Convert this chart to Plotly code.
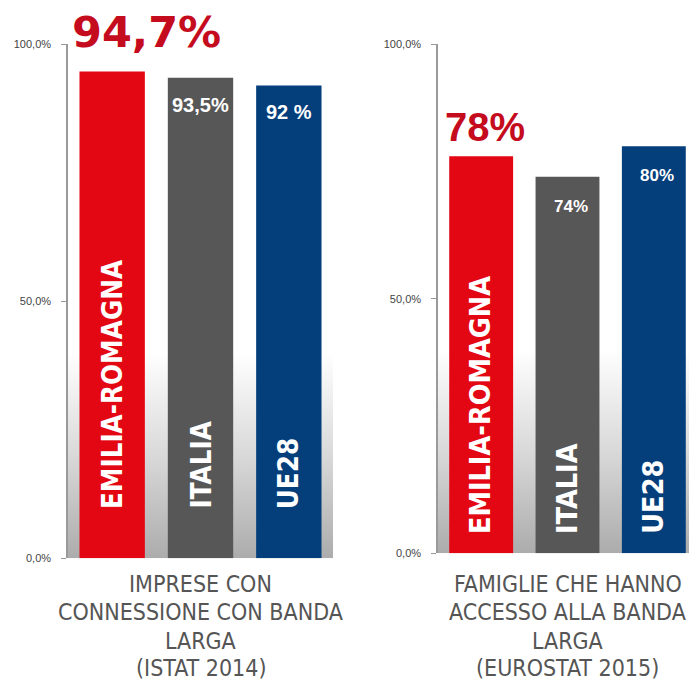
import base64
import plotly.graph_objects as go

# ---- data ----
categories = ["EMILIA-ROMAGNA", "ITALIA", "UE28"]
imprese_values = [94.7, 93.5, 92.0]
imprese_labels = ["94,7%", "93,5%", "92 %"]
famiglie_values = [78.0, 74.0, 80.0]
famiglie_labels = ["78%", "74%", "80%"]
tick_values = [0, 50, 100]
tick_labels = ["0,0%", "50,0%", "100,0%"]
subtitle_left = ["IMPRESE CON", "CONNESSIONE CON BANDA", "LARGA", "(ISTAT 2014)"]
subtitle_right = ["FAMIGLIE CHE HANNO", "ACCESSO ALLA BANDA", "LARGA", "(EUROSTAT 2015)"]

bar_colors = ["#e30613", "#575757", "#043e7b"]
NARROW = "Liberation Sans Narrow, Arial Narrow, DejaVu Sans Condensed, sans-serif"

# page body has an 8px margin: size the figure so it fits the 697x680 window
OFF = 8
FW, FH = 697 - OFF, 680 - OFF


def xd(px):
    return (px - OFF) / FW


def yd(py):
    # empirical correction of the vertical placement seen in the rendered page
    req = (py - 5.82) / 0.9806
    return (FH - (req - OFF)) / FH


fig = go.Figure()
fig.add_trace(go.Bar(x=categories, y=imprese_values, marker=dict(color=bar_colors, line=dict(width=0)),
                     width=0.74, xaxis="x", yaxis="y", hoverinfo="skip"))
fig.add_trace(go.Bar(x=categories, y=famiglie_values, marker=dict(color=bar_colors, line=dict(width=0)),
                     width=0.74, xaxis="x2", yaxis="y2", hoverinfo="skip"))

# gradient background (svg data uri)
svg = ('<svg xmlns="http://www.w3.org/2000/svg" width="10" height="100" viewBox="0 0 10 100" '
       'preserveAspectRatio="none"><defs><linearGradient id="g" x1="0" y1="0" x2="0" y2="1">'
       '<stop offset="0" stop-color="#ffffff"/><stop offset="0.6" stop-color="#ffffff"/>'
       '<stop offset="0.8" stop-color="#d9d9d9"/>'
       '<stop offset="1" stop-color="#acacac"/></linearGradient></defs>'
       '<rect x="0" y="0" width="10" height="100" fill="url(#g)"/></svg>')
src = "data:image/svg+xml;base64," + base64.b64encode(svg.encode()).decode()
images = []
for xr, yr in (("x domain", "y domain"), ("x2 domain", "y2 domain")):
    images.append(dict(source=src, xref=xr, yref=yr, x=0, y=1, sizex=1, sizey=1,
                       sizing="stretch", xanchor="left", yanchor="top", layer="below"))

annotations = []
panels = [
    dict(xr="x", yr="y", vals=imprese_values, labs=imprese_labels, name_off=9.2, name_size=27.5,
         big=dict(font="DejaVu Sans", size=43, xshift=34, yshift=13),
         small=dict(size=20, yshift=-14, xshift=0), sub=subtitle_left),
    dict(xr="x2", yr="y2", vals=famiglie_values, labs=famiglie_labels, name_off=3.4, name_size=28.5,
         big=dict(font="Liberation Sans", size=40, xshift=4, yshift=5),
         small=dict(size=17, yshift=-18, xshift=3), sub=subtitle_right),
]
sub_line_y = [583, 611, 640, 667]
for p in panels:
    for i, (c, v, lab) in enumerate(zip(categories, p["vals"], p["labs"])):
        # category name rotated inside bar
        annotations.append(dict(x=c, y=p["name_off"], xref=p["xr"], yref=p["yr"], text=c,
                                textangle=-90, showarrow=False, xanchor="center", yanchor="bottom",
                                font=dict(family=NARROW, size=p["name_size"], color="white", weight="bold")))
        if i == 0:
            b = p["big"]
            annotations.append(dict(x=c, y=v, xref=p["xr"], yref=p["yr"], text=lab, showarrow=False,
                                    xanchor="center", yanchor="bottom", xshift=b["xshift"], yshift=b["yshift"],
                                    font=dict(family=b["font"], size=b["size"], color="#c50b1e", weight="bold")))
        else:
            s = p["small"]
            annotations.append(dict(x=c, y=v, xref=p["xr"], yref=p["yr"], text=lab, showarrow=False,
                                    xanchor="center", yanchor="top", xshift=s["xshift"], yshift=s["yshift"],
                                    font=dict(family="Liberation Sans", size=s["size"], color="white", weight="bold")))
    for line, ly in zip(p["sub"], sub_line_y):
        annotations.append(dict(x=0.5, y=yd(ly), xref=p["xr"] + " domain", yref="paper", text=line,
                                showarrow=False, xanchor="center", yanchor="middle",
                                font=dict(family="DejaVu Sans Condensed, DejaVu Sans", size=23, color="#555555")))

yax = dict(range=[0, 100], tickvals=tick_values, ticktext=tick_labels, ticks="outside", ticklen=5,
           tickcolor="#999999", showline=True, linecolor="#9a9a9a", linewidth=1.5, showgrid=False,
           zeroline=False, ticklabelstandoff=8,
           tickfont=dict(family="Liberation Sans", size=11, color="#444444"), fixedrange=True)
xax = dict(type="category", showticklabels=False, showline=False, ticks="", showgrid=False,
           zeroline=False, fixedrange=True)

fig.update_layout(
    width=FW, height=FH, margin=dict(l=0, r=0, t=0, b=0),
    paper_bgcolor="white", plot_bgcolor="rgba(0,0,0,0)", showlegend=False, hovermode=False,
    xaxis=dict(xax, domain=[xd(68), xd(333)], anchor="y"),
    yaxis=dict(yax, domain=[yd(557), yd(44)], anchor="x"),
    xaxis2=dict(xax, domain=[xd(438), 1.0], anchor="y2"),
    yaxis2=dict(yax, domain=[yd(552), yd(44)], anchor="x2"),
    images=images, annotations=annotations,
)

fig.write_html("out.html", config={"displayModeBar": False})
